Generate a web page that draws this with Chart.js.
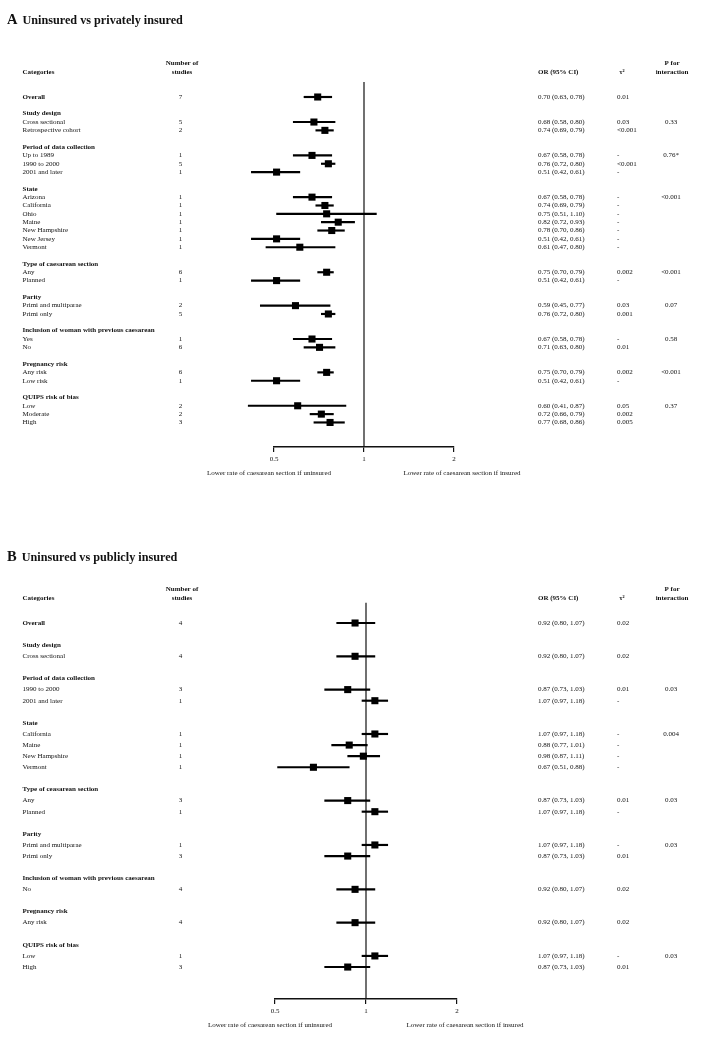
<!DOCTYPE html>
<html>
<head>
<meta charset="utf-8">
<title>Forest plots</title>
<script src="https://cdn.jsdelivr.net/npm/chart.js@4.4.1/dist/chart.umd.min.js"></script>
<style>
  body { margin: 0; background: #fff; }
  #page { position: relative; width: 708px; height: 1049px; font-family: "Liberation Serif", "Times New Roman", serif; color: #111; }
  canvas { position: absolute; left: 0; }
  .title { position: absolute; left: 7px; font-weight: bold; font-size: 12.2px; line-height: 18px; white-space: nowrap; }
  .title b { font-size: 14.5px; margin-right: 5px; }
</style>
</head>
<body>
<div id="page">
  <canvas id="chartA" width="708" height="490" style="top:0"></canvas>
  <canvas id="chartB" width="708" height="519" style="top:530px"></canvas>
  <div class="title" style="top:10px"><b>A</b>Uninsured vs privately insured</div>
  <div class="title" style="top:547px"><b>B</b>Uninsured vs publicly insured</div>
</div>
<script>
// ---- panel A : uninsured vs privately insured ----
const catsA = ['Overall', '', 'Study design', 'Cross sectional', 'Retrospective cohort', '',
  'Period of data collection', 'Up to 1989', '1990 to 2000', '2001 and later', '',
  'State', 'Arizona', 'California', 'Ohio', 'Maine', 'New Hampshire', 'New Jersey', 'Vermont', '',
  'Type of caesarean section', 'Any', 'Planned', '',
  'Parity', 'Primi and multiparae', 'Primi only', '',
  'Inclusion of woman with previous caesarean', 'Yes', 'No', '',
  'Pregnancy risk', 'Any risk', 'Low risk', '',
  'QUIPS risk of bias', 'Low', 'Moderate', 'High'];
const studiesA = [7, null, null, 5, 2, null, null, 1, 5, 1, null, null, 1, 1, 1, 1, 1, 1, 1, null,
  null, 6, 1, null, null, 2, 5, null, null, 1, 6, null, null, 6, 1, null, null, 2, 2, 3];
const orA = [0.70, null, null, 0.68, 0.74, null, null, 0.67, 0.76, 0.51, null, null, 0.67, 0.74, 0.75, 0.82, 0.78, 0.51, 0.61, null,
  null, 0.75, 0.51, null, null, 0.59, 0.76, null, null, 0.67, 0.71, null, null, 0.75, 0.51, null, null, 0.60, 0.72, 0.77];
const lowA = [0.63, null, null, 0.58, 0.69, null, null, 0.58, 0.72, 0.42, null, null, 0.58, 0.69, 0.51, 0.72, 0.70, 0.42, 0.47, null,
  null, 0.70, 0.42, null, null, 0.45, 0.72, null, null, 0.58, 0.63, null, null, 0.70, 0.42, null, null, 0.41, 0.66, 0.68];
const highA = [0.78, null, null, 0.80, 0.79, null, null, 0.78, 0.80, 0.61, null, null, 0.78, 0.79, 1.10, 0.93, 0.86, 0.61, 0.80, null,
  null, 0.79, 0.61, null, null, 0.77, 0.80, null, null, 0.78, 0.80, null, null, 0.79, 0.61, null, null, 0.87, 0.79, 0.86];
const tauA = ['0.01', '', '', '0.03', '<0.001', '', '', '-', '<0.001', '-', '', '', '-', '-', '-', '-', '-', '-', '-', '',
  '', '0.002', '-', '', '', '0.03', '0.001', '', '', '-', '0.01', '', '', '0.002', '-', '', '', '0.05', '0.002', '0.005'];
const pA = ['', '', '', '0.33', '', '', '', '0.76*', '', '', '', '', '<0.001', '', '', '', '', '', '', '',
  '', '<0.001', '', '', '', '0.07', '', '', '', '0.58', '', '', '', '<0.001', '', '', '', '0.37', '', ''];

// ---- panel B : uninsured vs publicly insured ----
const catsB = ['Overall', '', 'Study design', 'Cross sectional', '',
  'Period of data collection', '1990 to 2000', '2001 and later', '',
  'State', 'California', 'Maine', 'New Hampshire', 'Vermont', '',
  'Type of ceasarean section', 'Any', 'Planned', '',
  'Parity', 'Primi and multiparae', 'Primi only', '',
  'Inclusion of woman with previous caesarean', 'No', '',
  'Pregnancy risk', 'Any risk', '',
  'QUIPS risk of bias', 'Low', 'High'];
const studiesB = [4, null, null, 4, null, null, 3, 1, null, null, 1, 1, 1, 1, null,
  null, 3, 1, null, null, 1, 3, null, null, 4, null, null, 4, null, null, 1, 3];
const orB = [0.92, null, null, 0.92, null, null, 0.87, 1.07, null, null, 1.07, 0.88, 0.98, 0.67, null,
  null, 0.87, 1.07, null, null, 1.07, 0.87, null, null, 0.92, null, null, 0.92, null, null, 1.07, 0.87];
const lowB = [0.80, null, null, 0.80, null, null, 0.73, 0.97, null, null, 0.97, 0.77, 0.87, 0.51, null,
  null, 0.73, 0.97, null, null, 0.97, 0.73, null, null, 0.80, null, null, 0.80, null, null, 0.97, 0.73];
const highB = [1.07, null, null, 1.07, null, null, 1.03, 1.18, null, null, 1.18, 1.01, 1.11, 0.88, null,
  null, 1.03, 1.18, null, null, 1.18, 1.03, null, null, 1.07, null, null, 1.07, null, null, 1.18, 1.03];
const tauB = ['0.02', '', '', '0.02', '', '', '0.01', '-', '', '', '-', '-', '-', '-', '',
  '', '0.01', '-', '', '', '-', '0.01', '', '', '0.02', '', '', '0.02', '', '', '-', '0.01'];
const pB = ['', '', '', '', '', '', '0.03', '', '', '', '0.004', '', '', '', '',
  '', '0.03', '', '', '', '0.03', '', '', '', '', '', '', '', '', '', '0.03', ''];

const xTicks = [0.5, 1, 2];

Chart.defaults.font.family = '"Liberation Serif", serif';
const INK = '#111';
const fmt = (v) => v.toFixed(2);

// draws the reference line at OR = 1 and the table columns beside the plot
const forestTable = {
  id: 'forestTable',
  beforeDatasetsDraw(chart) {
    const { ctx, chartArea, scales: { x } } = chart;
    const px = x.getPixelForValue(1);
    ctx.save();
    ctx.strokeStyle = INK;
    ctx.lineWidth = 1.2;
    ctx.beginPath();
    ctx.moveTo(px, chartArea.top);
    ctx.lineTo(px, chartArea.bottom);
    ctx.stroke();
    ctx.restore();
  },
  afterDraw(chart, args, opts) {
    const t = opts.table;
    const { ctx, chartArea, scales: { x, y } } = chart;
    const reg = '7px "Liberation Serif"';
    const bold = 'bold 7px "Liberation Serif"';
    const y0 = y.getPixelForValue(0);
    ctx.save();
    ctx.fillStyle = INK;
    ctx.textBaseline = 'middle';

    // column heads
    ctx.font = bold;
    ctx.textAlign = 'left';
    ctx.fillText('Categories', 22.5, y0 - 25);
    ctx.fillText('OR (95% CI)', 538, y0 - 25);
    ctx.textAlign = 'center';
    ctx.fillText('Number of', 182, y0 - 34);
    ctx.fillText('studies', 182, y0 - 25);
    ctx.fillText('τ²', 622, y0 - 25);
    ctx.fillText('P for', 672, y0 - 34);
    ctx.fillText('interaction', 672, y0 - 25);

    t.cats.forEach((c, i) => {
      if (!c) return;
      const py = y.getPixelForValue(i);
      ctx.font = (t.or[i] == null || c === 'Overall') ? bold : reg;
      ctx.textAlign = 'left';
      ctx.fillText(c, 22.5, py);
      ctx.font = reg;
      if (t.n[i] != null) {
        ctx.textAlign = 'center';
        ctx.fillText(String(t.n[i]), 180.5, py);
      }
      if (t.or[i] != null) {
        ctx.textAlign = 'left';
        ctx.fillText(fmt(t.or[i]) + ' (' + fmt(t.lo[i]) + ', ' + fmt(t.hi[i]) + ')', 538, py);
      }
      if (t.tau[i]) {
        ctx.textAlign = 'left';
        ctx.fillText(t.tau[i], 617, py);
      }
      if (t.p[i]) {
        ctx.textAlign = 'center';
        ctx.fillText(t.p[i], 671, py);
      }
    });

    // captions under the axis
    ctx.font = reg;
    ctx.textAlign = 'center';
    const by = chartArea.bottom + 26;
    ctx.fillText('Lower rate of caesarean section if uninsured', x.getPixelForValue(0.5) - 5, by);
    ctx.fillText('Lower rate of caesarean section if insured', x.getPixelForValue(2) + 8, by);
    ctx.restore();
  }
};

function buildForest(id, t, yMin, yMax, pad) {
  const rows = t.or.map((v, i) => i).filter((i) => t.or[i] != null);
  return new Chart(document.getElementById(id), {
    type: 'bar',
    data: {
      datasets: [
        {
          type: 'scatter',
          order: 0,
          data: rows.map((i) => ({ x: t.or[i], y: i })),
          pointStyle: 'rect',
          pointRadius: 5,
          pointHoverRadius: 5,
          backgroundColor: '#000',
          borderWidth: 0,
          clip: false
        },
        {
          type: 'bar',
          order: 1,
          data: rows.map((i) => ({ y: i, x: [t.lo[i], t.hi[i]] })),
          backgroundColor: '#000',
          barThickness: 1.5,
          clip: false
        }
      ]
    },
    options: {
      responsive: false,
      animation: false,
      indexAxis: 'y',
      layout: { padding: pad },
      plugins: {
        legend: { display: false },
        tooltip: { enabled: false },
        forestTable: { table: t }
      },
      scales: {
        x: {
          type: 'logarithmic',
          min: 0.5,
          max: 2,
          offset: false,
          afterBuildTicks: (s) => { s.ticks = xTicks.map((v) => ({ value: v })); },
          afterFit: (s) => { s.height = 20; },
          ticks: {
            autoSkip: false,
            maxRotation: 0,
            padding: 3,
            color: INK,
            font: { size: 7 },
            callback: (v) => String(v)
          },
          grid: { drawOnChartArea: false, drawTicks: true, tickLength: 5, color: INK, lineWidth: 1.2 },
          border: { display: true, color: INK, width: 1.5 }
        },
        y: { type: 'linear', reverse: true, offset: false, min: yMin, max: yMax, display: false }
      }
    },
    plugins: [forestTable]
  });
}

buildForest('chartA',
  { cats: catsA, n: studiesA, or: orA, lo: lowA, hi: highA, tau: tauA, p: pA },
  -1.797, 41.94, { top: 82, left: 274, right: 254, bottom: 23 });

buildForest('chartB',
  { cats: catsB, n: studiesB, or: orB, lo: lowB, hi: highB, tau: tauB, p: pB },
  -1.83, 33.88, { top: 72.7, left: 275, right: 251, bottom: 30 });
</script>
</body>
</html>
